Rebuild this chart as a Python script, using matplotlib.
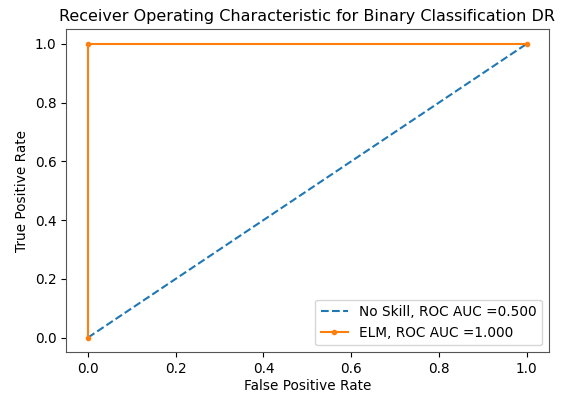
import matplotlib
matplotlib.use("Agg")
import matplotlib.pyplot as plt

ns_fpr = [0.0, 1.0]
ns_tpr = [0.0, 1.0]
elm_fpr = [0.0, 0.0, 1.0]
elm_tpr = [0.0, 1.0, 1.0]
ns_auc = 0.5
elm_auc = 1.0

plt.rcParams['font.size'] = 9.8
fig = plt.figure(figsize=(5.65, 3.94), dpi=100)
ax = fig.add_axes([0.117, 0.106, 0.854, 0.82])
ax.plot(ns_fpr, ns_tpr, linestyle='--', label='No Skill, ROC AUC =%.3f' % ns_auc)
ax.plot(elm_fpr, elm_tpr, marker='.', label='ELM, ROC AUC =%.3f' % elm_auc)
ax.set_xlabel('False Positive Rate', labelpad=2)
ax.set_ylabel('True Positive Rate')
ax.set_title('Receiver Operating Characteristic for Binary Classification DR', fontsize=11.5)
ax.legend(loc='lower right')
for s in ax.spines.values():
    s.set_color('#555555')
fig.savefig('out.png', dpi=100)
